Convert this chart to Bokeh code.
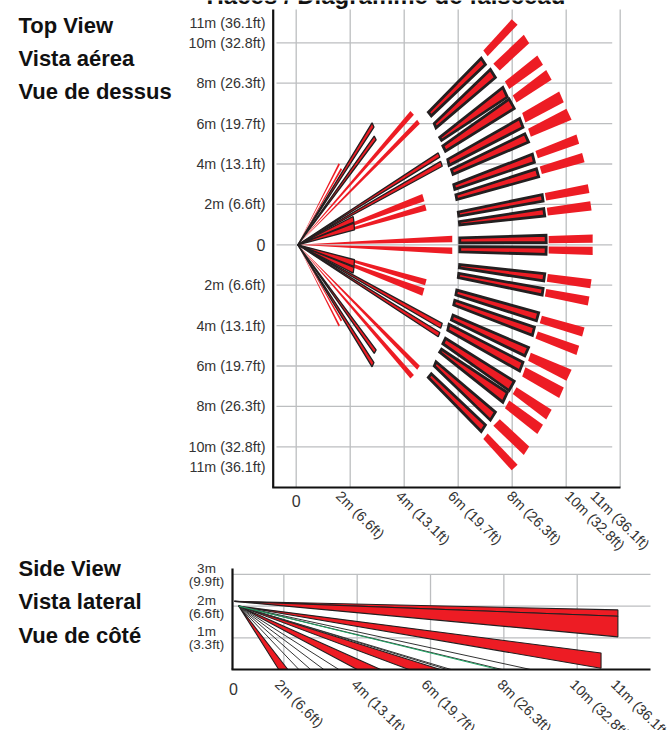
import math
from bokeh.core.properties import value
from bokeh.embed import file_html
from bokeh.resources import INLINE
from bokeh.plotting import figure
from bokeh.layouts import column

RED = "#ed1c24"
DARK = "#231f20"
GRID = "#bcbec0"
TXT = "#333333"
INK = "#111111"
FONT = "Liberation Sans"

title_text = "Haces / Diagramme de faisceau"
top_captions = ["Top View", "Vista aérea", "Vue de dessus"]
side_captions = ["Side View", "Vista lateral", "Vue de côté"]

# ---------- top view: metres, upper half (the lower half is its mirror image)
beam_origin = (0.06, 0.0)
outer_red = [
    [(6.93, 9.62), (7.98, 11.16), (8.20, 10.89), (7.09, 9.34)],
    [(7.30, 8.96), (8.43, 10.40), (8.63, 9.98), (7.54, 8.63)],
    [(7.73, 8.09), (8.93, 9.37), (9.14, 8.91), (7.89, 7.71)],
    [(8.02, 7.39), (9.26, 8.65), (9.46, 8.17), (8.16, 7.05)],
    [(8.37, 6.52), (9.74, 7.59), (9.91, 7.06), (8.49, 6.06)],
    [(8.59, 5.74), (10.01, 6.73), (10.20, 6.19), (8.69, 5.35)],
    [(8.86, 4.64), (10.38, 5.46), (10.48, 5.00), (8.95, 4.29)],
    [(9.02, 3.88), (10.59, 4.54), (10.68, 4.09), (9.10, 3.51)],
    [(9.21, 2.56), (10.80, 3.00), (10.86, 2.56), (9.26, 2.19)],
    [(9.28, 1.83), (10.89, 2.15), (10.94, 1.70), (9.32, 1.45)],
    [(9.35, 0.43), (10.98, 0.51), (10.98, 0.10), (9.35, 0.08)],
]
middle_black = [
    [(4.83, 6.57), (6.86, 9.34), (7.07, 8.91), (5.00, 6.29)],
    [(5.06, 6.02), (7.20, 8.78), (7.44, 8.27), (5.16, 5.69)],
    [(5.25, 5.33), (7.67, 7.89), (7.88, 7.29), (5.37, 5.08)],
    [(5.37, 4.92), (7.90, 7.31), (8.14, 6.73), (5.51, 4.54)],
    [(5.56, 4.26), (8.30, 6.34), (8.46, 5.78), (5.63, 3.84)],
    [(5.69, 3.76), (8.49, 5.58), (8.67, 5.05), (5.78, 3.40)],
    [(5.78, 3.02), (8.78, 4.57), (8.88, 4.04), (5.84, 2.66)],
    [(5.86, 2.52), (8.93, 3.84), (9.04, 3.32), (5.91, 2.16)],
    [(5.95, 1.67), (9.15, 2.56), (9.20, 2.11), (5.98, 1.34)],
    [(5.99, 1.20), (9.21, 1.86), (9.26, 1.37), (6.01, 0.91)],
    [(6.01, 0.41), (9.30, 0.54), (9.31, 0.05), (6.01, 0.03)],
]
# far ends of the wedges that start at the origin
inner_red_ends = [
    [(1.57, 4.04), (1.62, 3.98)],
    [(1.65, 3.80), (1.70, 3.73)],
    [(4.23, 6.62), (4.36, 6.44)],
    [(4.48, 6.19), (4.58, 5.99)],
    [(4.67, 2.52), (4.75, 2.15)],
    [(4.77, 2.00), (4.83, 1.70)],
    [(5.78, 0.45), (5.78, 0.13)],
]
inner_black_ends = [
    [(2.81, 6.04), (2.88, 5.83)],
    [(2.89, 5.38), (2.96, 5.20)],
    [(5.26, 4.55), (5.32, 4.34)],
    [(5.35, 4.13), (5.41, 3.89)],
    [(2.11, 1.40), (2.14, 1.12)],
    [(2.14, 1.07), (2.16, 0.74)],
]

top_grid_x = [0, 2, 4, 6, 8, 10, 12]
top_grid_y = [10, 8, 6, 4, 2, 0, -2, -4, -6, -8, -10]
top_y_ticks = [11, 10, 8, 6, 4, 2, 0, -2, -4, -6, -8, -10, -11]
top_y_labels = ["11m (36.1ft)", "10m (32.8ft)", "8m (26.3ft)", "6m (19.7ft)", "4m (13.1ft)", "2m (6.6ft)", "0",
                "2m (6.6ft)", "4m (13.1ft)", "6m (19.7ft)", "8m (26.3ft)", "10m (32.8ft)", "11m (36.1ft)"]
x_labels = ["2m (6.6ft)", "4m (13.1ft)", "6m (19.7ft)", "8m (26.3ft)", "10m (32.8ft)", "11m (36.1ft)"]

# ---------- side view: metres
side_apex = (0.65, 2.15)
side_apex_low = (0.77, 2.00)
side_far_beams = [
    [(11.11, 1.88), (11.11, 1.68)],
    [(11.11, 1.68), (11.11, 1.03)],
    [(10.65, 0.52), (10.65, 0.04)],
]
side_ground_red = [(1.86, 2.11), (4.00, 4.64), (5.41, 6.27)]
side_ground_open = [(2.41, 2.73), (3.09, 3.50), (6.45, 6.56), (7.95, 8.73)]
side_green_end = 7.85
side_grid_x = [2, 4, 6, 8, 10]
side_grid_y = [3, 2, 1]
side_y_labels = [(3, "3m", "(9.9ft)"), (2, "2m", "(6.6ft)"), (1, "1m", "(3.3ft)")]

# ---------- layout (page pixels)
T_L, T_R, T_T, T_B = 272.7, 620, 9, 487
T_SX, T_SY = 27.0, 20.2
T_X0, T_Y0 = 295.7, 244.3
S_L, S_R, S_T, S_B = 232, 650, 568, 669
S_SX, S_SY = 36.67, 31.7
S_X0 = 210.0
TOP_H = 552
SIDE_H = 178
W = 667


def tx(px): return (px - T_X0) / T_SX
def ty(py): return (T_Y0 - py) / T_SY
def sx(px): return (px - S_X0) / S_SX
def sy(py): return (S_B - py) / S_SY


def inset(poly, d):
    pts = [(x * T_SX, y * T_SY) for x, y in poly]
    n = len(pts)
    out = []
    for i, (x, y) in enumerate(pts):
        ax, ay = pts[i - 1]
        bx, by = pts[(i + 1) % n]
        la = math.hypot(ax - x, ay - y) or 1
        lb = math.hypot(bx - x, by - y) or 1
        out.append(((x + d * ((ax - x) / la + (bx - x) / lb)) / T_SX,
                    (y + d * ((ay - y) / la + (by - y) / lb)) / T_SY))
    return out


def both_sides(polys):
    res = []
    for poly in polys:
        res.append(poly)
        res.append([(x, -y) for x, y in poly])
    return res


def draw(p, polys, **kw):
    p.patches([[q[0] for q in poly] for poly in polys],
              [[q[1] for q in poly] for poly in polys], **kw)


def caption(p, x, y, text, size, bold=False, align="left", angle=0, color=TXT):
    p.text([x], [y], text=[text], text_font=value(FONT), text_font_size=f"{size}px",
           text_font_style="bold" if bold else "normal", text_align=align,
           text_baseline="middle", angle=angle, text_color=color)


def canvas(height, xr, yr):
    p = figure(width=W, height=height, x_range=xr, y_range=yr, x_axis_location=None, y_axis_location=None,
               min_border=0, output_backend="svg", toolbar_location=None)
    p.outline_line_color = None
    p.grid.visible = False
    return p


# ---------- top figure
top = canvas(TOP_H, (tx(0), tx(W)), (ty(TOP_H), ty(0)))
top.segment(top_grid_x, ty(T_T), top_grid_x, ty(T_B), line_color=GRID, line_width=1.3)
top.segment(tx(276), top_grid_y, tx(611.7), top_grid_y, line_color=GRID, line_width=1.3)
top.segment(tx(T_L), ty(T_T), tx(T_L), ty(T_B), line_color=INK, line_width=2.2)
top.segment(tx(T_L - 1), ty(T_B), tx(T_R), ty(T_B), line_color=INK, line_width=2.2)

red_wedges = [[beam_origin] + e for e in inner_red_ends]
black_wedges = [[beam_origin] + e for e in inner_black_ends]
draw(top, both_sides(outer_red), fill_color=RED, line_color=None)
draw(top, both_sides(red_wedges), fill_color=RED, line_color=None)
draw(top, both_sides(black_wedges), fill_color=RED, line_color=DARK, line_width=1.3, line_join="bevel")
draw(top, both_sides([inset(q, 1.3) for q in middle_black]), fill_color=RED, line_color=DARK, line_width=2.8,
     line_join="miter")

caption(top, tx(206), ty(-5), title_text, 24, bold=True, color=INK)
for t, py in zip(top_captions, [25, 58, 91]):
    caption(top, tx(18), ty(py), t, 22, bold=True, color=INK)
for v, t in zip(top_y_ticks, top_y_labels):
    caption(top, tx(265), v, t, 16 if t == "0" else 14.3, align="right")
caption(top, tx(295.7), ty(500), "0", 16, align="center")
ANG = -math.radians(44.5)
for t, px in zip(x_labels, [338, 398, 450, 509, 567, 592.5]):
    caption(top, tx(px), ty(493), t, 14.3, angle=ANG)

# ---------- side figure
side = canvas(SIDE_H, (sx(0), sx(W)), (sy(TOP_H + SIDE_H), sy(TOP_H)))
side.segment(side_grid_x, 0, side_grid_x, 3, line_color=GRID, line_width=1.3)
side.segment(sx(S_L), side_grid_y, sx(S_R), side_grid_y, line_color=GRID, line_width=1.3)

side_polys = [[side_apex] + e for e in side_far_beams[:2]] + [[side_apex_low] + side_far_beams[2]]
side_polys += [[side_apex_low, (a, 0), (b, 0)] for a, b in side_ground_red]
draw(side, side_polys, fill_color=RED, line_color=DARK, line_width=1.1, line_join="bevel")
draw(side, [[side_apex_low, (a, 0), (b, 0)] for a, b in side_ground_open], fill_color=None, line_color="#333333",
     line_width=1.0, line_join="bevel")
side.line([side_apex_low[0], side_green_end], [side_apex_low[1], 0], line_color="#1fa463", line_width=1)
side.segment(sx(S_L), sy(S_T), sx(S_L), 0, line_color=INK, line_width=2.2)
side.segment(sx(S_L - 1), 0, sx(S_R), 0, line_color=INK, line_width=2.2)

for t, py in zip(side_captions, [568, 601, 635]):
    caption(side, sx(18), sy(py), t, 22, bold=True, color=INK)
for val, a, b in side_y_labels:
    py = S_B - val * S_SY
    caption(side, sx(206), sy(py - 6), a, 13.5, align="center")
    caption(side, sx(206), sy(py + 7), b, 13.5, align="center")
caption(side, sx(233), sy(688), "0", 16, align="center")
for t, px in zip(x_labels, [277, 353.5, 423.5, 499.5, 572, 613]):
    caption(side, sx(px), sy(681.5), t, 14.3, angle=ANG)

page = column(top, side)
open("out.html", "w").write(file_html(page, INLINE))
